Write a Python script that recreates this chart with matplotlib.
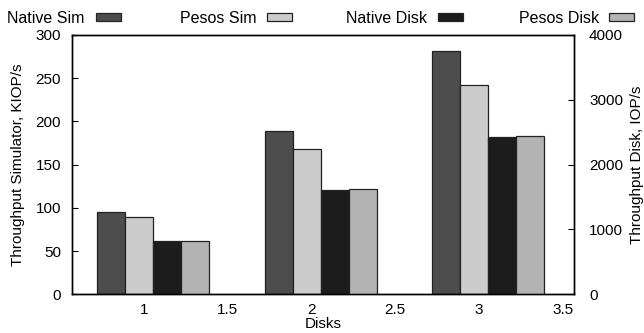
import numpy as np
import matplotlib
matplotlib.use("Agg")
import matplotlib.pyplot as plt
from matplotlib.patches import Rectangle

plt.rcParams['font.family'] = ['Liberation Sans', 'DejaVu Sans']
plt.rcParams['font.size'] = 11

# data
disks = [1, 2, 3]
native_sim = [95.2, 189.0, 281.0]      # KIOP/s, left axis
pesos_sim = [89.8, 168.0, 242.0]
native_disk = [817, 1613, 2431]        # IOP/s, right axis
pesos_disk = [827, 1624, 2437]
xtick_vals = [1, 1.5, 2, 2.5, 3, 3.5]
xtick_labels = ["1", "1.5", "2", "2.5", "3", "3.5"]
labels = ["Native Sim", "Pesos Sim", "Native Disk", "Pesos Disk"]
colors = ["#4d4d4d", "#cccccc", "#1c1c1c", "#b3b3b3"]

W, H = 644, 333
fig = plt.figure(figsize=(W / 100, H / 100), dpi=100)
ax = fig.add_axes([72.3 / W, 1 - 294.3 / H, 501.4 / W, 259.3 / H])
ax2 = ax.twinx()

w = 0.167
shift = 0.056
x = np.array(disks, dtype=float)
series = [(ax, native_sim), (ax, pesos_sim), (ax2, native_disk), (ax2, pesos_disk)]
for i, (a, vals) in enumerate(series):
    a.bar(x + shift + (i - 1.5) * w, vals, width=w, color=colors[i],
          edgecolor="#222222", linewidth=0.9, zorder=2)

ax.set_xlim(0.572, 3.565)
ax.set_ylim(0, 300)
ax2.set_ylim(0, 4000)
ax.set_yticks([0, 50, 100, 150, 200, 250, 300])
ax2.set_yticks([0, 1000, 2000, 3000, 4000])
ax.set_xticks(xtick_vals)
ax.set_xticklabels(xtick_labels)

ax.tick_params(axis='x', length=0, pad=6.5, labelsize=11)
ax.tick_params(axis='y', direction='in', length=4, pad=8, labelsize=11)
ax2.tick_params(axis='y', direction='in', length=4, pad=11, labelsize=11)

for a in (ax, ax2):
    for s in a.spines.values():
        s.set_linewidth(1.0)
        s.set_color("black")

ax.set_xlabel("Disks", fontsize=11, labelpad=-0.5)
ax.set_ylabel("Throughput Simulator, KIOP/s", fontsize=11, va='center')
ax.yaxis.set_label_coords((18 - 72.3) / 501.4, 0.5)
ax2.set_ylabel("Throughput Disk, IOP/s", fontsize=11, va='center')
ax2.yaxis.set_label_coords((637 - 72.3) / 501.4, 0.5)

# legend row across the top: text then box
text_x = [7, 180, 346, 519]
box_x = [96, 267, 438, 609]
for i in range(4):
    fig.text(text_x[i] / W, 1 - 23.3 / H, labels[i], fontsize=11.5,
             ha='left', va='baseline')
    fig.patches.append(Rectangle((box_x[i] / W, 1 - 20.7 / H), 25 / W, 7.4 / H,
                                 transform=fig.transFigure, facecolor=colors[i],
                                 edgecolor="#222222", linewidth=0.9))

fig.savefig("out.png", dpi=100)
